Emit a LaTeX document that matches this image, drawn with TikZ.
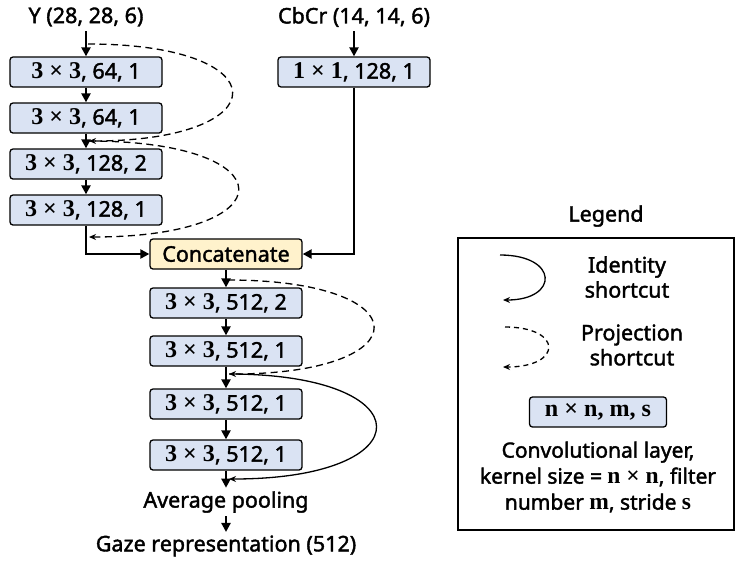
\documentclass[tikz,border=0pt]{standalone}
\usepackage{fontspec}
\setmainfont{Noto Sans}[FakeBold=1.8]
\newfontfamily\numfont{Liberation Serif}[Scale=1.12]
\newcommand{\ksz}[1]{{\numfont\bfseries #1}}
\usetikzlibrary{arrows.meta}
\definecolor{convblue}{HTML}{DAE3F3}
\definecolor{catyellow}{HTML}{FFF2CC}

\begin{document}
\begin{tikzpicture}[
        x=1pt, y=-1pt,
        every node/.style={font=\fontsize{21.5}{25}\selectfont},
        conv/.style={draw, rounded corners=3pt, line width=1.3pt, fill=convblue,
          minimum width=152pt, minimum height=30pt, inner sep=0pt},
        concat/.style={conv, fill=catyellow},
        flow/.style={-{Triangle[length=9pt,width=9pt]}, line width=2.2pt},
        proj/.style={-{Stealth[length=7pt,width=6pt]}, line width=1.3pt, dash pattern=on 7pt off 4.5pt},
        ident/.style={-{Stealth[length=7pt,width=6pt]}, line width=1.3pt},
        label/.style={align=center, font=\fontsize{21}{26}\selectfont}
      ]
\useasboundingbox (0,0) rectangle (738,563);

% Y branch
        \node (yin) at (86,17) {Y (28, 28, 6)};
        \node[conv] (c1) at (86,72) {\ksz{3 × 3}, 64, 1};
        \node[conv] (c2) at (86,118) {\ksz{3 × 3}, 64, 1};
        \node[conv] (c3) at (86,164) {\ksz{3 × 3}, 128, 2};
        \node[conv] (c4) at (86,210) {\ksz{3 × 3}, 128, 1};

% CbCr branch
        \node (cbin) at (354,17) {CbCr (14, 14, 6)};
        \node[conv] (cb) at (354,72) {\ksz{1 × 1}, 128, 1};

% Fused part
        \node[concat] (cat) at (226,254) {Concatenate};
        \node[conv] (c5) at (226,303) {\ksz{3 × 3}, 512, 2};
        \node[conv] (c6) at (226,351) {\ksz{3 × 3}, 512, 1};
        \node[conv] (c7) at (226,404) {\ksz{3 × 3}, 512, 1};
        \node[conv] (c8) at (226,455) {\ksz{3 × 3}, 512, 1};
        \node (pool) at (226,502) {Average pooling};
        \node (gaze) at (226,546) {Gaze representation (512)};

% Main flow
        \draw[flow, shorten <=1pt] (yin) -- (c1);
        \draw[flow] (c1) -- (c2);
        \draw[flow] (c2) -- (c3);
        \draw[flow] (c3) -- (c4);
        \draw[flow, shorten <=1pt] (cbin) -- (cb);
        \draw[flow] (c4.south) |- (cat.west);
        \draw[flow] (cb.south) |- (cat.east);
        \draw[flow] (cat) -- (c5);
        \draw[flow] (c5) -- (c6);
        \draw[flow] (c6) -- (c7);
        \draw[flow] (c7) -- (c8);
        \draw[flow] (c8) -- (pool);
        \draw[flow] (pool) -- (gaze);

% Shortcut joints
        \coordinate (j1) at (88,44);
        \coordinate (j2) at (89,141);
        \coordinate (j3) at (89,237);
        \coordinate (j4) at (228,280);
        \coordinate (j5) at (229,374);
        \coordinate (j6) at (229,479);

% Shortcuts
        \draw[proj] (j1) .. controls (280,44) and (280,141) .. (j2);
        \draw[proj] (j2) .. controls (288,141) and (288,237) .. (j3);
        \draw[proj] (j4) .. controls (422,280) and (422,374) .. (j5);
        \draw[ident] (j5) .. controls (425,374) and (425,479) .. (j6);

% Legend
        \node (legtitle) at (606,216) {Legend};
        \node[draw, line width=1.3pt, minimum width=276pt, minimum height=292pt] (legend) at (596,384) {};
        \coordinate (li1) at (500,255);
        \coordinate (li2) at (503,300);
        \coordinate (lp1) at (505,327);
        \coordinate (lp2) at (503,367);
        \draw[ident] (li1) .. controls (559,255) and (559,300) .. (li2);
        \draw[proj, dash pattern=on 5pt off 4pt] (lp1) .. controls (563,327) and (563,367) .. (lp2);
        \node[label, font=\fontsize{21.5}{25}\selectfont] (idtxt) at (627,277) {Identity\\shortcut};
        \node[label, font=\fontsize{21.5}{25}\selectfont] (prtxt) at (632,345) {Projection\\shortcut};
        \node[conv, minimum width=137pt, minimum height=30pt] (ex) at (598,412)
          {\ksz{n × n, m, s}};
        \node[label] (desc) at (598,477)
          {Convolutional layer,\\kernel size = \ksz{n × n}, filter\\number \ksz{m}, stride \ksz{s}};

      \end{tikzpicture}
\end{document}
